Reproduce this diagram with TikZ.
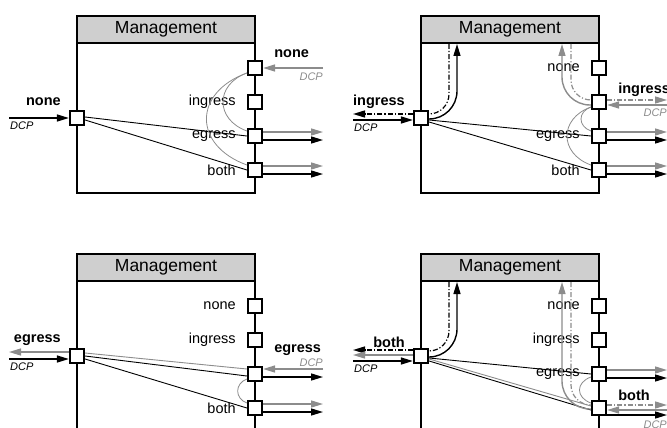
\documentclass[tikz,border=0pt]{standalone}
\usepackage{fontspec}
\setmainfont{Liberation Sans}
\usepackage{tikz}
\usetikzlibrary{positioning, arrows.meta}

\begin{document}
\begin{tikzpicture}[
        x=1pt, y=1pt,
        every node/.style={font=\fontsize{14.5}{16}\selectfont},
        frame/.style={rectangle, draw, line width=2.4pt, minimum width=178pt, minimum height=177pt, inner sep=0pt},
        mgmt/.style={rectangle, draw, line width=2.4pt, fill=black!19, minimum width=178pt, minimum height=27pt, inner sep=0pt, font=\fontsize{17.5}{20}\selectfont},
        port/.style={rectangle, draw, line width=2.2pt, fill=white, minimum size=14pt, inner sep=0pt},
        plbl/.style={inner sep=0pt},
        mode/.style={inner sep=0pt, font=\fontsize{14.5}{16}\selectfont\bfseries},
        dcp/.style={inner sep=0pt, font=\fontsize{11}{13}\selectfont\itshape},
        gtext/.style={text=black!45},
        ddot/.style={dash pattern=on 5pt off 2pt on 1.2pt off 2pt},
        link/.style={line width=0.9pt},
        glink/.style={line width=0.9pt, black!45},
        garc/.style={line width=0.8pt, black!45},
        msg/.style={-{Triangle[length=12pt, width=7pt]}, line width=1.4pt},
        gmsg/.style={msg, black!45},
        dline/.style={line width=1.2pt, ddot},
        gdline/.style={dline, black!45},
        dmsg/.style={msg, ddot},
        gdmsg/.style={gmsg, ddot}
    ]
%
    \useasboundingbox (0, 0) rectangle (667, -428);
%
    % Frames and ports
    \foreach \p/\x/\y in {A/0/0, B/344/0, C/0/-238, D/344/-238} {
        \node[frame] (\p-box) at (\x+166, \y-104.5) {};
        \node[mgmt] (\p-mgmt) at (\x+166, \y-29.5) {Management};
        \node[port] (\p-in) at (\x+77, \y-118) {};
        \coordinate (\p-src) at (\x+9, \y-118);
        \coordinate (\p-lu) at (\x+113, \y-44);
        \coordinate (\p-ld) at (\x+105, \y-44);
        \coordinate (\p-ru) at (\x+218, \y-44);
        \coordinate (\p-rd) at (\x+227, \y-44);
        \foreach \n/\yy in {none/68, ing/102, egr/136, both/170} {
            \node[port] (\p-\n) at (\x+255, \y-\yy) {};
            \coordinate (\p-\n-o) at (\x+323, \y-\yy);
        }
    }
%
    % Panel A: none
    \node[plbl, left=11pt of A-ing] (A-ing-t) {ingress};
    \node[plbl, left=11pt of A-egr] (A-egr-t) {egress};
    \node[plbl, left=11pt of A-both] (A-both-t) {both};
    \node[mode, anchor=east] (A-mode-l) at ([xshift=-8pt, yshift=16pt]A-in.west) {none};
    \node[mode, anchor=west] (A-mode-r) at ([xshift=11pt, yshift=14pt]A-none.east) {none};
    \node[dcp, anchor=west] (A-dcp-l) at ([xshift=1pt, yshift=-8pt]A-src) {DCP};
    \node[dcp, gtext, anchor=east] (A-dcp-r) at ([yshift=-9pt]A-none-o) {DCP};
    \draw[msg] (A-src) -- (A-in.west);
    \draw[gmsg] (A-none-o) -- (A-none.east);
    \draw[link] ([yshift=1pt]A-in.east) -- (A-egr.west);
    \draw[link] ([yshift=-2pt]A-in.east) -- (A-both.west);
    \draw[garc] ([yshift=-5pt]A-none.west) to[out=200, in=160, looseness=1.5] ([yshift=5pt]A-egr.west);
    \draw[garc] ([yshift=-5pt]A-none.west) to[out=200, in=160, looseness=1.6] ([yshift=5pt]A-both.west);
    \foreach \n in {egr, both} {
        \draw[gmsg] ([yshift=4pt]A-\n.east) -- ([yshift=4pt]A-\n-o);
        \draw[msg] ([yshift=-4pt]A-\n.east) -- ([yshift=-4pt]A-\n-o);
    }
%
    % Panel B: ingress
    \node[plbl, left=11pt of B-none] (B-none-t) {none};
    \node[plbl, left=11pt of B-egr] (B-egr-t) {egress};
    \node[plbl, left=11pt of B-both] (B-both-t) {both};
    \node[mode, anchor=east] (B-mode-l) at ([xshift=-8pt, yshift=16pt]B-in.west) {ingress};
    \node[mode, anchor=west] (B-mode-r) at ([xshift=11pt, yshift=12pt]B-ing.east) {ingress};
    \node[dcp, anchor=west] (B-dcp-l) at ([xshift=1pt, yshift=-10pt]B-src) {DCP};
    \node[dcp, gtext, anchor=east] (B-dcp-r) at ([yshift=-11pt]B-ing-o) {DCP};
    \draw[dmsg] ([yshift=4pt]B-in.west) -- ([yshift=4pt]B-src);
    \draw[msg] ([yshift=-2pt]B-src) -- ([yshift=-2pt]B-in.west);
    \draw[dline, rounded corners=20pt] (B-ld) |- ([yshift=4pt]B-in.east);
    \draw[msg, rounded corners=28pt] ([yshift=-1pt]B-in.east) -| (B-lu);
    \draw[link] ([yshift=-2pt]B-in.east) -- (B-egr.west);
    \draw[link] ([yshift=-4pt]B-in.east) -- (B-both.west);
    \draw[gdmsg] ([yshift=2pt]B-ing.east) -- ([yshift=2pt]B-ing-o);
    \draw[gmsg] ([yshift=-3pt]B-ing-o) -- ([yshift=-3pt]B-ing.east);
    \draw[gdline, rounded corners=20pt] (B-rd) |- ([yshift=2pt]B-ing.west);
    \draw[gmsg, rounded corners=28pt] ([yshift=-3pt]B-ing.west) -| (B-ru);
    \draw[garc] ([yshift=-5pt]B-ing.west) to[out=200, in=160, looseness=1.5] ([yshift=5pt]B-egr.west);
    \draw[garc] ([yshift=-5pt]B-ing.west) to[out=200, in=160, looseness=1.5] ([yshift=5pt]B-both.west);
    \foreach \n in {egr, both} {
        \draw[gmsg] ([yshift=4pt]B-\n.east) -- ([yshift=4pt]B-\n-o);
        \draw[msg] ([yshift=-4pt]B-\n.east) -- ([yshift=-4pt]B-\n-o);
    }
%
    % Panel C: egress
    \node[plbl, left=11pt of C-none] (C-none-t) {none};
    \node[plbl, left=11pt of C-ing] (C-ing-t) {ingress};
    \node[plbl, left=11pt of C-both] (C-both-t) {both};
    \node[mode, anchor=east] (C-mode-l) at ([xshift=-8pt, yshift=16pt]C-in.west) {egress};
    \node[mode, anchor=west] (C-mode-r) at ([xshift=11pt, yshift=24pt]C-egr.east) {egress};
    \node[dcp, anchor=west] (C-dcp-l) at ([xshift=1pt, yshift=-11pt]C-src) {DCP};
    \node[dcp, gtext, anchor=east] (C-dcp-r) at ([yshift=11pt]C-egr-o) {DCP};
    \draw[gmsg] ([yshift=4pt]C-in.west) -- ([yshift=4pt]C-src);
    \draw[msg] ([yshift=-3pt]C-src) -- ([yshift=-3pt]C-in.west);
    \draw[glink] ([yshift=5pt]C-egr.west) -- ([yshift=3pt]C-in.east);
    \draw[link] (C-in.east) -- ([yshift=-2pt]C-egr.west);
    \draw[link] ([yshift=-3pt]C-in.east) -- (C-both.west);
    \draw[gmsg] ([yshift=5pt]C-egr-o) -- ([yshift=5pt]C-egr.east);
    \draw[msg] ([yshift=-3pt]C-egr.east) -- ([yshift=-3pt]C-egr-o);
    \draw[garc] ([yshift=-5pt]C-egr.west) to[out=200, in=160, looseness=1.4] ([yshift=5pt]C-both.west);
    \draw[gmsg] ([yshift=4pt]C-both.east) -- ([yshift=4pt]C-both-o);
    \draw[msg] ([yshift=-4pt]C-both.east) -- ([yshift=-4pt]C-both-o);
%
    % Panel D: both
    \node[plbl, left=11pt of D-none] (D-none-t) {none};
    \node[plbl, left=11pt of D-ing] (D-ing-t) {ingress};
    \node[plbl, left=11pt of D-egr] (D-egr-t) {egress};
    \node[mode, anchor=east] (D-mode-l) at ([xshift=-8pt, yshift=14pt]D-in.west) {both};
    \node[mode, anchor=west] (D-mode-r) at ([xshift=11pt, yshift=13pt]D-both.east) {both};
    \node[dcp, anchor=west] (D-dcp-l) at ([xshift=1pt, yshift=-13pt]D-src) {DCP};
    \node[dcp, gtext, anchor=east] (D-dcp-r) at ([yshift=-17pt]D-both-o) {DCP};
    \draw[dmsg] ([yshift=6pt]D-in.west) -- ([yshift=6pt]D-src);
    \draw[gmsg] ([yshift=1pt]D-in.west) -- ([yshift=1pt]D-src);
    \draw[msg] ([yshift=-5pt]D-src) -- ([yshift=-5pt]D-in.west);
    \draw[dline, rounded corners=20pt] (D-ld) |- ([yshift=5pt]D-in.east);
    \draw[msg, rounded corners=28pt] ([yshift=-1pt]D-in.east) -| (D-lu);
    \draw[link] ([yshift=-2pt]D-in.east) -- (D-egr.west);
    \draw[glink] ([yshift=-3pt]D-in.east) -- ([yshift=2pt]D-both.west);
    \draw[link] ([yshift=-5pt]D-in.east) -- ([yshift=-2pt]D-both.west);
    \draw[gdline, rounded corners=20pt] (D-rd) |- ([yshift=3pt]D-both.west);
    \draw[gmsg, rounded corners=28pt] ([yshift=-1pt]D-both.west) -| (D-ru);
    \draw[garc] ([yshift=-3pt]D-egr.west) to[out=200, in=160, looseness=1.6] ([yshift=5pt]D-both.west);
    \draw[gmsg] ([yshift=4pt]D-egr.east) -- ([yshift=4pt]D-egr-o);
    \draw[msg] ([yshift=-4pt]D-egr.east) -- ([yshift=-4pt]D-egr-o);
    \draw[gdmsg] ([yshift=3pt]D-both.east) -- ([yshift=3pt]D-both-o);
    \draw[gmsg] ([yshift=-2pt]D-both-o) -- ([yshift=-2pt]D-both.east);
    \draw[msg] ([yshift=-7pt]D-both.east) -- ([yshift=-7pt]D-both-o);
%
\end{tikzpicture}
\end{document}
